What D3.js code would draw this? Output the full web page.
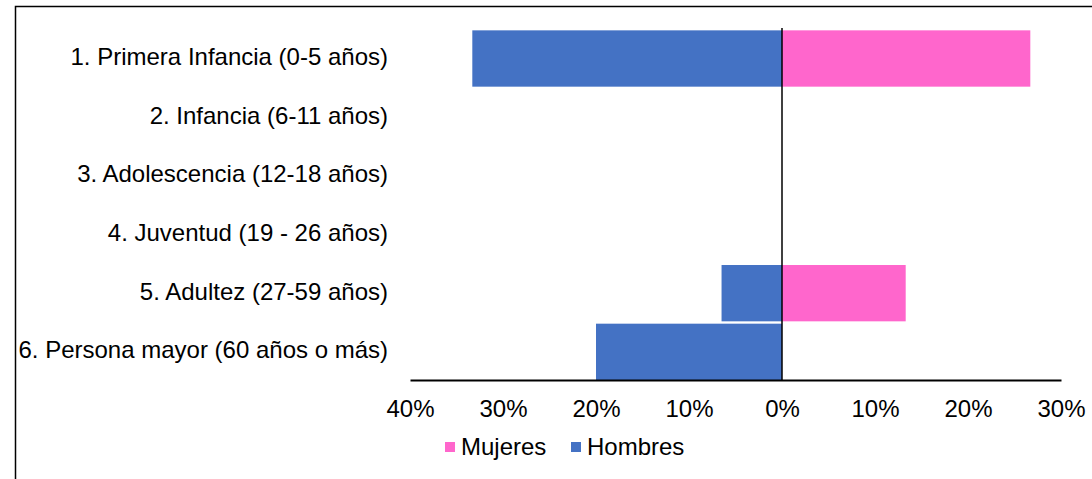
<!DOCTYPE html>
<html><head><meta charset="utf-8">
<script src="https://cdn.jsdelivr.net/npm/d3@7"></script>
<style>body{margin:0;background:#fff}svg{display:block;font-family:"Liberation Sans",Arial,sans-serif}</style>
</head><body>
<svg id="c" width="1092" height="479"></svg>
<script>
const categories = ["1. Primera Infancia (0-5 años)","2. Infancia (6-11 años)","3. Adolescencia (12-18 años)","4. Juventud (19 - 26 años)","5. Adultez (27-59 años)","6. Persona mayor (60 años o más)"];
const mujeres = [0.267, 0, 0, 0, 0.133, 0];
const hombres = [-0.333, 0, 0, 0, -0.065, -0.20];
const ticks = [-0.4,-0.3,-0.2,-0.1,0,0.1,0.2,0.3];
const seriesNames = ["Mujeres","Hombres"];
const colors = {Mujeres:"#FF66CC", Hombres:"#4472C4"};
const FS = 24;

const svg = d3.select("#c");
svg.append("rect").attr("x",15.5).attr("y",6.5).attr("width",1100).attr("height",500)
  .attr("fill","none").attr("stroke","#000").attr("stroke-width",1.5);

const x = d3.scaleLinear().domain([-0.4,0.3]).range([410,1061]);
const y = d3.scaleBand().domain(categories).range([28,380]).paddingInner(0).paddingOuter(0);
const bw = y.bandwidth();
const pad = bw*0.04;

const data = categories.map((c,i)=>({c, m:mujeres[i], h:hombres[i]}));
svg.append("g").selectAll("rect").data(data.filter(d=>d.h!==0)).join("rect")
  .attr("x",d=>x(d.h)).attr("y",d=>y(d.c)+pad).attr("width",d=>x(0)-x(d.h)).attr("height",bw-pad)
  .attr("fill",colors.Hombres);
svg.append("g").selectAll("rect").data(data.filter(d=>d.m!==0)).join("rect")
  .attr("x",x(0)).attr("y",d=>y(d.c)+pad).attr("width",d=>x(d.m)-x(0)).attr("height",bw-pad)
  .attr("fill",colors.Mujeres);

// zero line
svg.append("line").attr("x1",x(0)).attr("x2",x(0)).attr("y1",28).attr("y2",380)
  .attr("stroke","#000").attr("stroke-width",1.5);

// x axis
const xAxis = d3.axisBottom(x).tickValues(ticks).tickSize(0).tickPadding(20)
  .tickFormat(d=>Math.round(Math.abs(d)*100)+"%");
const gx = svg.append("g").attr("transform","translate(0,380)").call(xAxis);
gx.select(".domain").attr("stroke","#000").attr("stroke-width",2);
gx.selectAll("text").attr("font-size",FS).attr("fill","#000").attr("font-family","Liberation Sans, Arial, sans-serif");

// y axis labels
const yAxis = d3.axisLeft(y).tickSize(0).tickPadding(0);
const gy = svg.append("g").attr("transform","translate(388,0)").call(yAxis);
gy.select(".domain").remove();
gy.selectAll("text").attr("font-size",FS).attr("fill","#000").attr("font-family","Liberation Sans, Arial, sans-serif");

// legend
const legX = [445, 571];
const leg = svg.append("g").selectAll("g").data(seriesNames).join("g")
  .attr("transform",(d,i)=>`translate(${legX[i]},447)`);
leg.append("rect").attr("x",0).attr("y",-5).attr("width",10).attr("height",10).attr("fill",d=>colors[d]);
leg.append("text").attr("x",16).attr("y",0).attr("dy","0.35em").attr("font-size",FS).attr("fill","#000").text(d=>d);
</script>
</body></html>
